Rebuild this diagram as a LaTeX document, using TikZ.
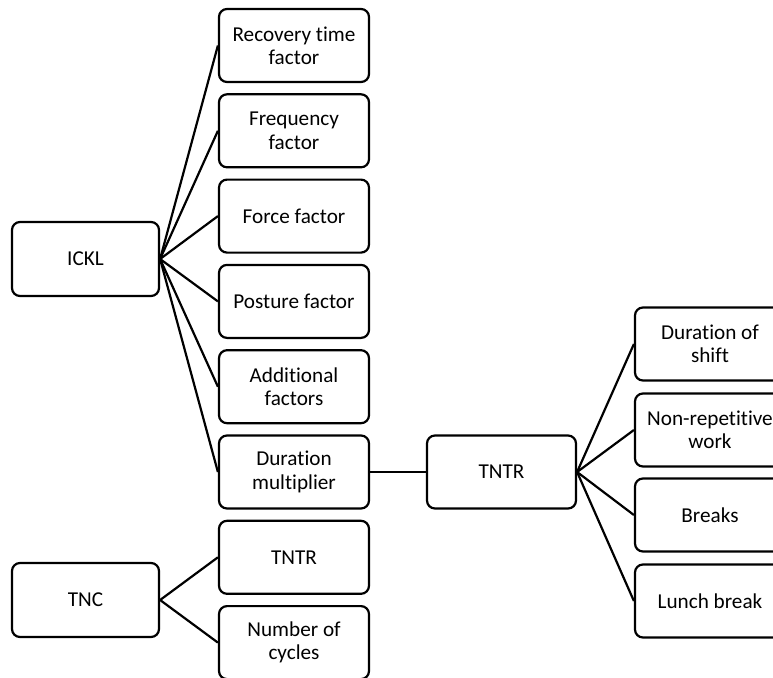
\documentclass[tikz,border=0pt]{standalone}
\usepackage{fontspec}
\setmainfont{Carlito}[Ligatures={NoCommon}]
\begin{document}
\begin{tikzpicture}[x=0.5pt,y=-0.5pt,
  box/.style={draw=black, line width=1.1pt, rounded corners=4pt, minimum width=75pt, minimum height=36.5pt, inner sep=0pt, align=center, font=\fontsize{10.6}{11.7}\selectfont},
  root/.style={box, minimum width=73.5pt, minimum height=37pt},
  link/.style={draw=black, line width=1.1pt}]
\useasboundingbox (0,0) rectangle (773,677);
\clip (0,0) rectangle (773,677);
\node[root] (ickl) at (85.5,259) {ICKL};
\node[root] (tnc) at (85.5,600) {TNC};
\node[box] (rec) at (294,45.5) {Recovery time\\factor};
\node[box] (freq) at (294,130.8) {Frequency\\factor};
\node[box] (force) at (294,216.1) {Force factor};
\node[box] (post) at (294,301.4) {Posture factor};
\node[box] (add) at (294,386.7) {Additional\\factors};
\node[box] (dur) at (294,472) {Duration\\multiplier};
\node[box] (tntra) at (294,557.3) {TNTR};
\node[box] (cyc) at (294,642.6) {Number of\\cycles};
\node[box, minimum width=74.5pt] (tntr) at (501.5,472) {TNTR};
\node[box] (shift) at (710,344) {Duration of\\shift};
\node[box] (nonrep) at (710,430) {Non-repetitive\\work};
\node[box] (breaks) at (710,515) {Breaks};
\node[box] (lunch) at (710,601) {Lunch break};
\foreach \c in {rec,freq,force,post,add,dur} \draw[link] (ickl.east) -- (\c.west);
\foreach \c in {tntra,cyc} \draw[link] (tnc.east) -- (\c.west);
\draw[link] (dur.east) -- (tntr.west);
\foreach \c in {shift,nonrep,breaks,lunch} \draw[link] (tntr.east) -- (\c.west);
\end{tikzpicture}
\end{document}
